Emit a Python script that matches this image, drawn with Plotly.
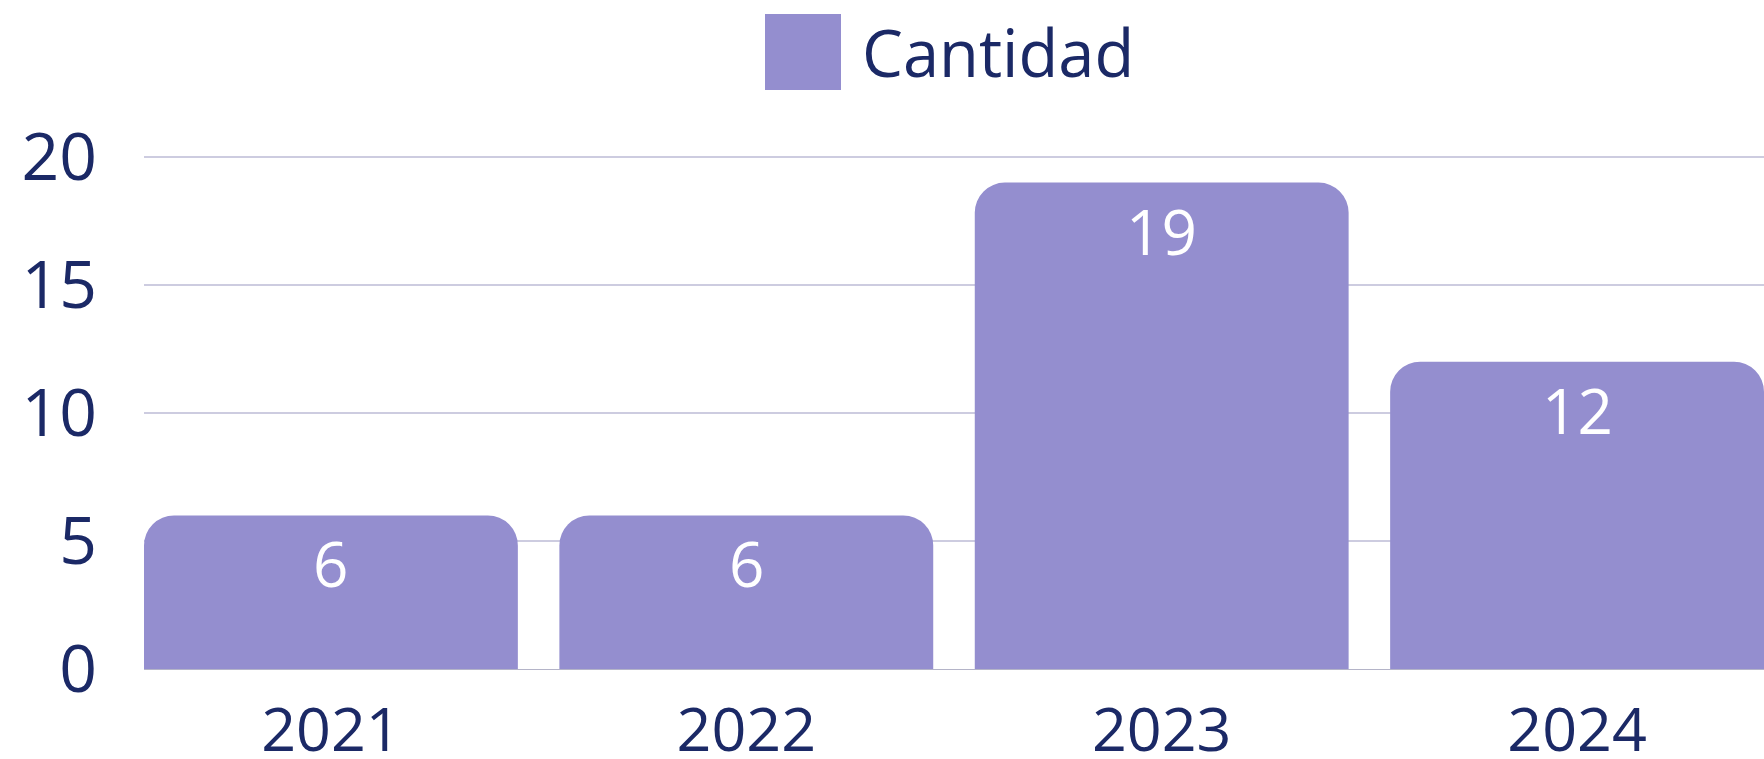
import plotly.graph_objects as go

years = ["2021", "2022", "2023", "2024"]
cantidad = [6, 6, 19, 12]
y_ticks = [0, 5, 10, 15, 20]
series_name = "Cantidad"

BAR = "#948ecf"
NAVY = "#1b2966"
GRID = "#cdcce0"
FONT = "Open Sans"
FS_Y = 66
FS_X = 61
FS_LBL = 62
FS_LEG = 65

W, H = 1764, 759
L, R, T, B = 144, 0, 156, 90
pw, ph = W - L - R, H - T - B

def px(x):
    return (x - L) / pw

def py(y):
    return (H - B - y) / ph

fig = go.Figure()
fig.add_trace(go.Bar(
    x=years, y=cantidad, name=series_name,
    marker=dict(color=BAR, line=dict(width=0)),
    showlegend=False,
))

label_annotations = [
    dict(x=i, y=v, xref="x", yref="y", text=str(v), showarrow=False,
         xanchor="center", yanchor="middle", yshift=-48,
         font=dict(size=FS_LBL, color="white", family=FONT))
    for i, v in enumerate(cantidad)
]

fig.update_layout(
    width=W, height=H,
    margin=dict(l=L, r=R, t=T, b=B, pad=0),
    paper_bgcolor="white", plot_bgcolor="white",
    bargap=0.1,
    barcornerradius=30,
    font=dict(family=FONT, color=NAVY, size=FS_Y),
    xaxis=dict(
        type="category", range=[-0.45, 3.45], automargin=False,
        showgrid=False, showline=True, linecolor="#b4b4c8", linewidth=1,
        ticks="", tickfont=dict(size=FS_X, color=NAVY, family=FONT),
        ticklabelstandoff=8,
    ),
    yaxis=dict(
        range=[0, 20.04], tickvals=y_ticks, automargin=False,
        showgrid=True, gridcolor=GRID, gridwidth=2,
        zeroline=False, showline=False,
        ticks="", tickfont=dict(size=FS_Y, color=NAVY, family=FONT),
        ticklabelstandoff=46,
    ),
    shapes=[dict(
        type="rect", xref="paper", yref="paper",
        x0=px(765), x1=px(841), y0=py(90), y1=py(14),
        fillcolor=BAR, line=dict(width=0),
    )],
    annotations=[dict(
        text=series_name, xref="paper", yref="paper",
        x=px(860), y=py(52), xanchor="left", yanchor="middle",
        showarrow=False, font=dict(size=FS_LEG, color=NAVY, family=FONT),
    )] + label_annotations,
)

fig.write_html(
    "out.html",
    config={"displayModeBar": False},
    post_script="document.body.style.margin='0';document.body.style.overflow='hidden';",
)
